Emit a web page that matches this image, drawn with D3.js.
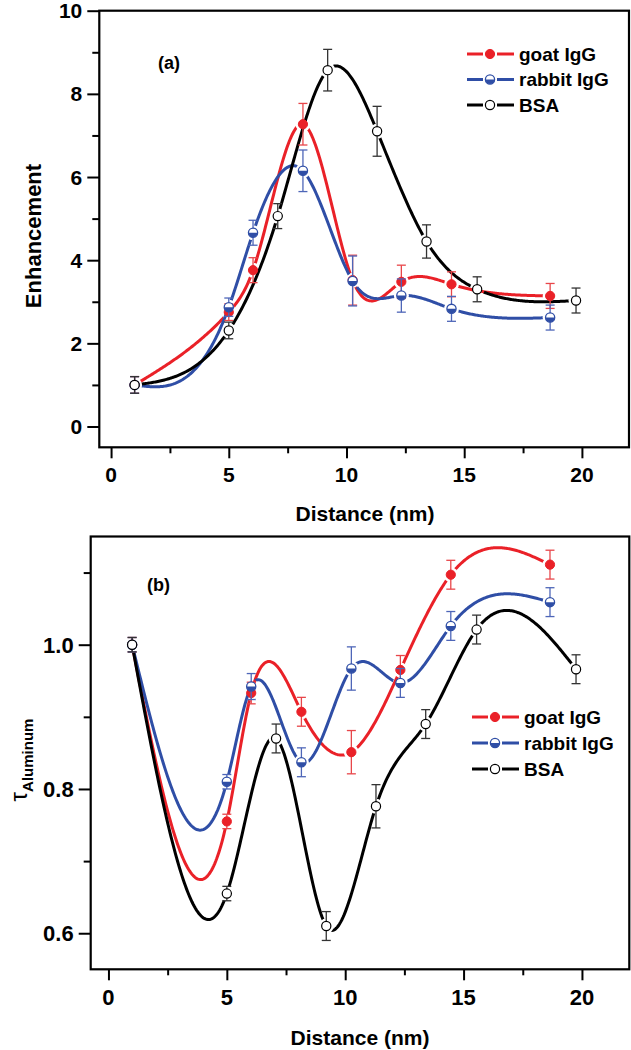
<!DOCTYPE html>
<html><head><meta charset="utf-8">
<script src="https://cdn.jsdelivr.net/npm/d3@7"></script>
<style>html,body{margin:0;padding:0;background:#fff;}svg{display:block;}</style>
</head><body>
<svg id="c" width="631" height="1050"></svg>
<script>
// ---------- data ----------
const distIgG = [1, 5, 6.03, 8.15, 10.26, 12.33, 14.46, 18.65];
const distBSA = [1, 5, 7.08, 9.2, 11.3, 13.4, 15.55, 19.75];

const enhGoat      = [1.0, 2.75, 3.76, 7.27, 3.52, 3.48, 3.42, 3.14];
const enhGoatErr   = [0.2, 0.2, 0.3, 0.5, 0.6, 0.4, 0.3, 0.3];
const enhRabbit    = [1.0, 2.87, 4.66, 6.15, 3.50, 3.15, 2.83, 2.62];
const enhRabbitErr = [0.2, 0.22, 0.3, 0.5, 0.6, 0.4, 0.3, 0.3];
const enhBSA       = [1.0, 2.31, 5.06, 8.57, 7.10, 4.45, 3.30, 3.03];
const enhBSAErr    = [0.2, 0.2, 0.3, 0.5, 0.6, 0.4, 0.3, 0.3];

const tauGoat      = [1.0, 0.755, 0.933, 0.907, 0.851, 0.965, 1.097, 1.111];
const tauGoatErr   = [0.01, 0.01, 0.015, 0.02, 0.03, 0.02, 0.02, 0.02];
const tauRabbit    = [1.0, 0.81, 0.942, 0.837, 0.967, 0.947, 1.026, 1.059];
const tauRabbitErr = [0.01, 0.01, 0.018, 0.02, 0.03, 0.02, 0.02, 0.02];
const tauBSA       = [1.0, 0.655, 0.87, 0.61, 0.776, 0.89, 1.021, 0.966];
const tauBSAErr    = [0.01, 0.01, 0.02, 0.02, 0.03, 0.02, 0.02, 0.02];

const seriesNames = ["goat IgG", "rabbit IgG", "BSA"];
const xTicks = [0, 5, 10, 15, 20];
const enhTicks = [0, 2, 4, 6, 8, 10];
const tauTicks = [0.6, 0.8, 1.0];

// ---------- style ----------
const COL = {goat: "#ea2128", rabbit: "#2f4ea6", bsa: "#000000"};
const ERRCOL = {goat: "#e8464a", rabbit: "#4e66b8", bsa: "#333333"};
const FONT = "'Liberation Sans', Arial, sans-serif";

const svg = d3.select("#c");

// natural cubic spline y(x)
function spline(xs, ys) {
  const n = xs.length, h = [], a = [], b = [], c = [], d = [], M = new Array(n).fill(0);
  for (let i = 0; i < n - 1; i++) h.push(xs[i + 1] - xs[i]);
  const m = n - 2;
  if (m > 0) {
    for (let i = 1; i <= m; i++) {
      a.push(h[i - 1]); b.push(2 * (h[i - 1] + h[i])); c.push(h[i]);
      d.push(6 * ((ys[i + 1] - ys[i]) / h[i] - (ys[i] - ys[i - 1]) / h[i - 1]));
    }
    for (let i = 1; i < m; i++) {
      const w = a[i] / b[i - 1];
      b[i] -= w * c[i - 1]; d[i] -= w * d[i - 1];
    }
    const sol = new Array(m);
    sol[m - 1] = d[m - 1] / b[m - 1];
    for (let i = m - 2; i >= 0; i--) sol[i] = (d[i] - c[i] * sol[i + 1]) / b[i];
    for (let i = 0; i < m; i++) M[i + 1] = sol[i];
  }
  return function (x) {
    let i = 0;
    while (i < n - 2 && x > xs[i + 1]) i++;
    const hi = h[i], t1 = xs[i + 1] - x, t0 = x - xs[i];
    return M[i] * t1 * t1 * t1 / (6 * hi) + M[i + 1] * t0 * t0 * t0 / (6 * hi) +
      (ys[i] / hi - M[i] * hi / 6) * t1 + (ys[i + 1] / hi - M[i + 1] * hi / 6) * t0;
  };
}

let maskId = 0;
function drawMarker(g, cx, cy, kind, r) {
  if (kind === "goat") {
    g.append("circle").attr("cx", cx).attr("cy", cy).attr("r", r)
      .attr("fill", COL.goat).attr("stroke", COL.goat).attr("stroke-width", 1);
  } else if (kind === "rabbit") {
    g.append("circle").attr("cx", cx).attr("cy", cy).attr("r", r)
      .attr("fill", "#fff").attr("stroke", COL.rabbit).attr("stroke-width", 1.3);
    g.append("path").attr("d", `M${cx - r},${cy} A${r},${r} 0 0 0 ${cx + r},${cy} Z`)
      .attr("fill", COL.rabbit);
  } else {
    g.append("circle").attr("cx", cx).attr("cy", cy).attr("r", r)
      .attr("fill", "#fff").attr("stroke", "#000").attr("stroke-width", 1.2);
  }
}

function panel(opt) {
  const x = d3.scaleLinear().domain(opt.xDomain).range(opt.xRange);
  const y = d3.scaleLinear().domain(opt.yDomain).range(opt.yRange);
  const g = svg.append("g");
  const [L, R] = opt.xRange, [B, T] = opt.yRange;

  // axes
  const xAxis = d3.axisBottom(x).tickValues(d3.range(0, 21, 2.5)).tickSize(0).tickFormat("");
  const xa = g.append("g").attr("transform", `translate(0,${B})`).call(xAxis);
  xa.select(".domain").remove();
  xa.selectAll(".tick line").attr("y2", (d) => (d % 5 === 0 ? 11 : 6))
    .attr("stroke", "#000").attr("stroke-width", 2);
  g.selectAll(".xlab").data(xTicks).enter().append("text")
    .attr("x", (d) => x(d)).attr("y", opt.xLabY).attr("text-anchor", "middle")
    .attr("font-family", FONT).attr("font-weight", "bold").attr("font-size", opt.tickFont)
    .text((d) => d);

  const ya = g.append("g").attr("transform", `translate(${L},0)`)
    .call(d3.axisLeft(y).tickValues(opt.yMinor).tickSize(0).tickFormat(""));
  ya.select(".domain").remove();
  ya.selectAll(".tick line").attr("x2", (d) => (opt.yMajor.some((v) => Math.abs(v - d) < 1e-9) ? -12 : -7))
    .attr("stroke", "#000").attr("stroke-width", 2);
  g.selectAll(".ylab").data(opt.yMajor).enter().append("text")
    .attr("x", L - 17).attr("y", (d) => y(d)).attr("dy", "0.36em").attr("text-anchor", "end")
    .attr("font-family", FONT).attr("font-weight", "bold").attr("font-size", opt.tickFont)
    .text(opt.yFmt);

  g.append("rect").attr("x", L).attr("y", T).attr("width", R - L).attr("height", B - T)
    .attr("fill", "none").attr("stroke", "#000").attr("stroke-width", 2.2);

  const S = opt.series;
  // curves with gaps around the symbols
  S.forEach((s) => {
    const id = "m" + (maskId++);
    const mask = svg.append("defs").append("mask").attr("id", id).attr("maskUnits", "userSpaceOnUse");
    mask.append("rect").attr("x", 0).attr("y", 0).attr("width", 631).attr("height", 1050).attr("fill", "#fff");
    s.xs.forEach((xv, i) => mask.append("circle").attr("cx", x(xv)).attr("cy", y(s.ys[i])).attr("r", 7.5).attr("fill", "#000"));
    const f = spline(s.xs, s.ys);
    const x0 = s.xs[0], x1 = s.xs[s.xs.length - 1];
    const pts = d3.range(0, 401).map((k) => { const xv = x0 + (x1 - x0) * k / 400; return [xv, f(xv)]; });
    g.append("path").datum(pts)
      .attr("d", d3.line().x((d) => x(d[0])).y((d) => y(d[1])))
      .attr("fill", "none").attr("stroke", COL[s.kind]).attr("stroke-width", 3)
      .attr("mask", `url(#${id})`);
  });
  // error bars + markers
  S.forEach((s) => {
    s.xs.forEach((xv, i) => {
      const cx = x(xv), y1 = y(s.ys[i] + s.err[i]), y2 = y(s.ys[i] - s.err[i]);
      const eg = g.append("g").attr("stroke", ERRCOL[s.kind]).attr("stroke-width", 1.3);
      eg.append("line").attr("x1", cx).attr("x2", cx).attr("y1", y1).attr("y2", y2);
      eg.append("line").attr("x1", cx - 4.5).attr("x2", cx + 4.5).attr("y1", y1).attr("y2", y1);
      eg.append("line").attr("x1", cx - 4.5).attr("x2", cx + 4.5).attr("y1", y2).attr("y2", y2);
      drawMarker(g, cx, y(s.ys[i]), s.kind, 4.6);
    });
  });

  // legend
  S.forEach((s, i) => {
    const ly = opt.leg.y + i * opt.leg.dy, lx = opt.leg.x;
    g.append("line").attr("x1", lx).attr("x2", lx + 16).attr("y1", ly).attr("y2", ly)
      .attr("stroke", COL[s.kind]).attr("stroke-width", 3);
    g.append("line").attr("x1", lx + 30).attr("x2", lx + 47).attr("y1", ly).attr("y2", ly)
      .attr("stroke", COL[s.kind]).attr("stroke-width", 3);
    drawMarker(g, lx + 23, ly, s.kind, 4.6);
    g.append("text").attr("x", lx + 52).attr("y", ly).attr("dy", "0.36em")
      .attr("font-family", FONT).attr("font-weight", "bold").attr("font-size", 19)
      .text(seriesNames[i]);
  });

  g.append("text").attr("x", opt.tag.x).attr("y", opt.tag.y).attr("dy", "0.36em")
    .attr("font-family", FONT).attr("font-weight", "bold").attr("font-size", 18).text(opt.tag.t);

  g.append("text").attr("x", opt.xTitleX).attr("y", opt.xTitleY).attr("dy", "0.36em")
    .attr("text-anchor", "middle").attr("font-family", FONT).attr("font-weight", "bold")
    .attr("font-size", 21).text("Distance (nm)");
  return {x, y, g};
}

const p1 = panel({
  xDomain: [-0.5, 22], xRange: [99.3, 629], yDomain: [-0.5, 10], yRange: [447.3, 10.7],
  yMajor: enhTicks, yMinor: d3.range(0, 10.01, 1), yFmt: (d) => d, tickFont: 21, xLabY: 482,
  series: [
    {kind: "goat", xs: distIgG, ys: enhGoat, err: enhGoatErr},
    {kind: "rabbit", xs: distIgG, ys: enhRabbit, err: enhRabbitErr},
    {kind: "bsa", xs: distBSA, ys: enhBSA, err: enhBSAErr}
  ],
  leg: {x: 467, y: 54, dy: 25.5}, tag: {x: 158, y: 63, t: "(a)"}, xTitleX: 365, xTitleY: 513
});
p1.g.append("text").attr("transform", "translate(33,236) rotate(-90)").attr("dy", "0.36em")
  .attr("text-anchor", "middle").attr("font-family", FONT).attr("font-weight", "bold")
  .attr("font-size", 22).text("Enhancement");

const p2 = panel({
  xDomain: [-0.75, 22], xRange: [90.7, 629.3], yDomain: [0.55, 1.15], yRange: [969.3, 536.5],
  yMajor: tauTicks, yMinor: [0.6, 0.7, 0.8, 0.9, 1.0, 1.1], yFmt: d3.format(".1f"), tickFont: 22, xLabY: 1005,
  series: [
    {kind: "goat", xs: distIgG, ys: tauGoat, err: tauGoatErr},
    {kind: "rabbit", xs: distIgG, ys: tauRabbit, err: tauRabbitErr},
    {kind: "bsa", xs: distBSA, ys: tauBSA, err: tauBSAErr}
  ],
  leg: {x: 472, y: 717, dy: 26}, tag: {x: 147, y: 585, t: "(b)"}, xTitleX: 360, xTitleY: 1037
});
const yt = p2.g.append("text").attr("transform", "translate(27,760) rotate(-90)")
  .attr("text-anchor", "middle").attr("font-family", FONT).attr("font-weight", "bold");
yt.append("tspan").attr("font-size", 24).attr("font-weight", "normal").text("τ");
yt.append("tspan").attr("font-size", 15).attr("dy", 6).text("Aluminum");
</script>
</body></html>
